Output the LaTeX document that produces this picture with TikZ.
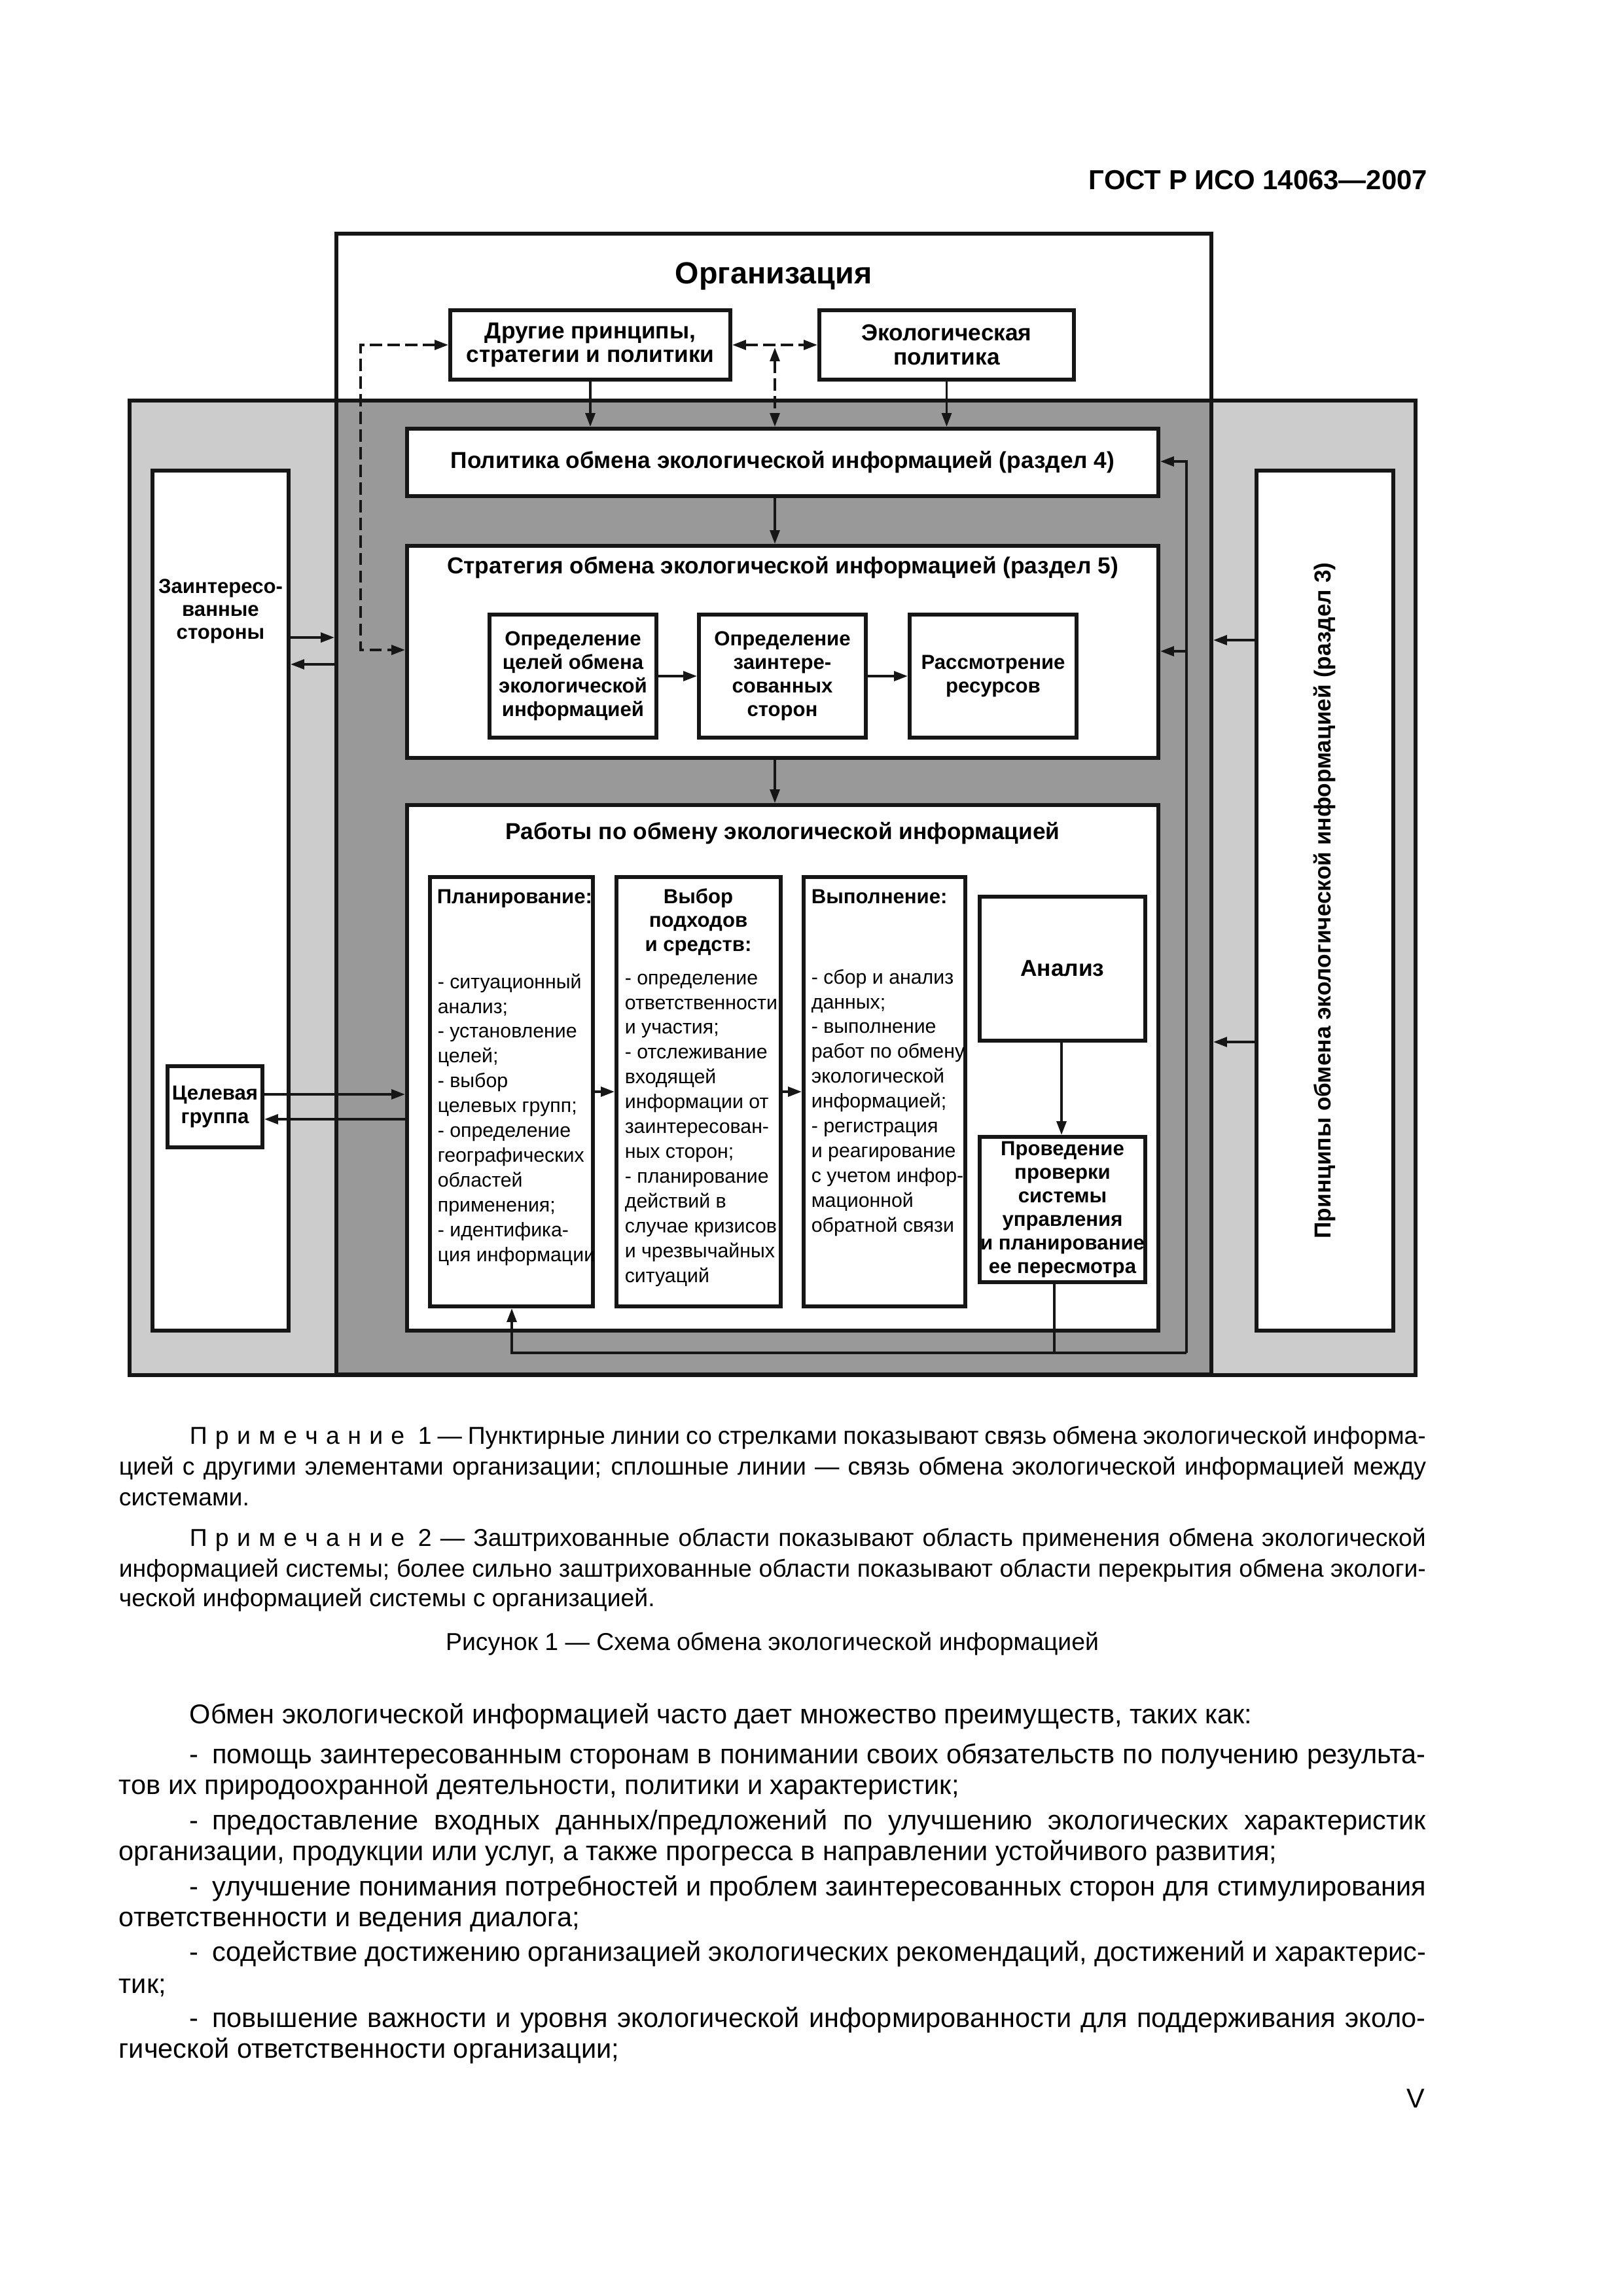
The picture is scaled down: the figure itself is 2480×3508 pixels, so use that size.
\documentclass[tikz,border=0pt]{standalone}
\usepackage{fontspec}
\setmainfont{Liberation Sans}
\usetikzlibrary{arrows.meta}
\newlength\PX \setlength\PX{0.084667mm}
\newlength\TW \setlength\TW{1997\PX}
\newlength\IND \setlength\IND{108\PX}
\definecolor{lg}{HTML}{CCCCCC}
\definecolor{dg}{HTML}{999999}
\definecolor{lc}{HTML}{161616}
\newcommand\bx[7]{\node[#2, minimum width={(#5-#3)*\PX}, minimum height={(#6-#4)*\PX}] (#1) at ({(#3+#5)/2},{(#4+#6)/2}) {#7};}
\newcommand\J[1]{\hbox to \TW{#1}}
\newcommand\JI[1]{\hbox to \TW{\hskip\IND #1}}
\newcommand\Prim{П\kern.33em р\kern.33em и\kern.33em м\kern.33em е\kern.33em ч\kern.33em а\kern.33em н\kern.33em и\kern.33em е\kern.55em}
\tikzset{
  frame/.style={draw=lc, line width=1.5pt},
  box/.style={draw=lc, line width=1.5pt, fill=white, inner sep=0pt, align=center, font=\bfseries\fontsize{8.5}{8.9}\selectfont},
  sbox/.style={box, font=\bfseries\fontsize{7.5}{8.7}\selectfont},
  ln/.style={draw=lc, line width=0.75pt},
  ar/.style={ln, -{Triangle[length=5pt,width=3.6pt]}},
  dar/.style={ln, dash pattern=on 4.5pt off 2pt, {Triangle[length=5pt,width=3.6pt]}-{Triangle[length=5pt,width=3.6pt]}},
  note/.style={anchor=base west, inner sep=0pt, font=\fontsize{9}{11.3}\selectfont},
  body/.style={anchor=base west, inner sep=0pt, font=\fontsize{10}{12.5}\selectfont},
  lst/.style={anchor=base west, inner sep=0pt, font=\fontsize{7.3}{9.15}\selectfont},
  ttl/.style={anchor=base, inner sep=0pt, font=\bfseries\fontsize{8.5}{8.9}\selectfont},
  sttl/.style={anchor=base, inner sep=0pt, font=\bfseries\fontsize{7.5}{8.9}\selectfont},
}
\begin{document}
\begin{tikzpicture}[x=0.084667mm, y=-0.084667mm, line join=miter]
\useasboundingbox (0,0) rectangle (2480,3508);
\fill[white] (0,0) rectangle (2480,3508);

% header
\node[anchor=base east, inner sep=0pt, font=\bfseries\fontsize{10.1}{12}\selectfont] (hdr) at (2182,289) {ГОСТ Р ИСО 14063—2007};

% frames
\fill[white] (514,357) rectangle (1851,613);
\node[fill=lg, inner sep=0pt, minimum width={(2162-199)*\PX}, minimum height={(2100-613)*\PX}] (sys) at ({(199+2162)/2},{(613+2100)/2}) {};
\fill[dg] (514,613) rectangle (1851,2100);
\draw[frame] (sys.north west) rectangle (sys.south east);
\node[frame, inner sep=0pt, minimum width={(1851-514)*\PX}, minimum height={(2100-357)*\PX}] (org) at ({(514+1851)/2},{(357+2100)/2}) {};
\node[anchor=base, inner sep=0pt, font=\bfseries\fontsize{11.25}{13}\selectfont] (orgt) at (1182,433) {Организация};

% boxes
\bx{oth}{box}{688}{474}{1116}{580}{Другие принципы,\\стратегии и политики}
\bx{eco}{box}{1252}{474}{1641}{580}{Экологическая\\политика}
\bx{pol}{box}{622}{655}{1770}{758}{Политика обмена экологической информацией (раздел 4)}
\bx{str}{box}{622}{834}{1770}{1158}{}
\node[ttl] (strt) at (1196,876) {Стратегия обмена экологической информацией (раздел 5)};
\bx{d1}{sbox}{748}{939}{1003}{1127}{Определение\\целей обмена\\экологической\\информацией}
\bx{d2}{sbox}{1068}{939}{1323}{1127}{Определение\\заинтере-\\сованных\\сторон}
\bx{d3}{sbox}{1390}{939}{1645}{1127}{Рассмотрение\\ресурсов}
\bx{wrk}{box}{622}{1230}{1770}{2033}{}
\node[ttl] (wrkt) at (1196,1282) {Работы по обмену экологической информацией};
\bx{pln}{box}{657}{1340}{906}{1996}{}
\bx{sel}{box}{942}{1340}{1193}{1996}{}
\bx{exe}{box}{1228}{1340}{1475}{1996}{}
\bx{ana}{box}{1497}{1370}{1750}{1590}{Анализ}
\bx{rev}{sbox}{1497}{1737}{1750}{1959}{Проведение\\проверки\\системы\\управления\\и планирование\\ее пересмотра}
\bx{stk}{box}{233}{719}{441}{2033}{}
\node[sttl] (stkt) at (337,906) {\parbox[t]{400\PX}{\centering Заинтересо-\\[-0.4pt]ванные\\[-0.4pt]стороны}};
\bx{tgt}{sbox}{256}{1629}{401}{1753}{Целевая\\группа}
\bx{prn}{box}{1920}{719}{2129}{2033}{}
\node[rotate=90, inner sep=0pt, font=\bfseries\fontsize{8.5}{9}\selectfont] (prnt) at (prn.center) {Принципы обмена экологической информацией (раздел 3)};

% column texts
\node[sttl, anchor=base west] (plnt) at (667,1380) {Планирование:};
\node[lst] (plnl) at (668,1510) {\parbox[t]{500\PX}{\raggedright - ситуационный\\анализ;\\- установление\\целей;\\- выбор\\целевых групп;\\- определение\\географических\\областей\\применения;\\- идентифика-\\ция информации}};
\node[sttl] (selt) at (1067,1380) {\parbox[t]{400\PX}{\centering Выбор\\подходов\\и средств:}};
\node[lst] (sell) at (954,1504) {\parbox[t]{500\PX}{\raggedright - определение\\ответственности\\и участия;\\- отслеживание\\входящей\\информации от\\заинтересован-\\ных сторон;\\- планирование\\действий в\\случае кризисов\\и чрезвычайных\\ситуаций}};
\node[sttl, anchor=base west] (exet) at (1239,1380) {Выполнение:};
\node[lst] (exel) at (1239,1503) {\parbox[t]{500\PX}{\raggedright - сбор и анализ\\данных;\\- выполнение\\работ по обмену\\экологической\\информацией;\\- регистрация\\и реагирование\\с учетом инфор-\\мационной\\обратной связи}};

% coordinates
\coordinate (cx) at (1184,527);
\coordinate (dl1) at (551,527);
\coordinate (dl2) at (551,993);
\coordinate (s1) at (441,974);
\coordinate (s2) at (441,1015);
\coordinate (r1) at (1920,978);
\coordinate (r2) at (1920,1592);
\coordinate (t1) at (0,1672);
\coordinate (t2) at (0,1710);
\coordinate (m) at (0,1668);
\coordinate (ax) at (1622,0);
\coordinate (fb) at (1813,2067);
\coordinate (fbl) at (782,2067);
\coordinate (rx) at (1611,2067);
\coordinate (p1) at (1813,705);
\coordinate (p2) at (1813,995);

% connectors
\draw[ar] (oth.south) -- (pol.north -| oth.south);
\draw[ar] (eco.south) -- (pol.north -| eco.south);
\draw[dar] (oth.east) -- (eco.west);
\draw[dar, shorten <=1pt] (cx) -- (pol.north -| cx);
\draw[dar] (oth.west) -- (dl1) -- (dl2) -- (str.west |- dl2);
\draw[ar] (pol.south -| cx) -- (str.north -| cx);
\draw[ar] (str.south -| cx) -- (wrk.north -| cx);
\draw[ar] (d1) -- (d2);
\draw[ar] (d2) -- (d3);
\draw[ar] (stk.east |- s1) -- (org.west |- s1);
\draw[ar] (org.west |- s2) -- (stk.east |- s2);
\draw[ar] (prn.west |- r1) -- (org.east |- r1);
\draw[ar] (prn.west |- r2) -- (org.east |- r2);
\draw[ar] (tgt.east |- t1) -- (wrk.west |- t1);
\draw[ar] (wrk.west |- t2) -- (tgt.east |- t2);
\draw[ar] (pln.east |- m) -- (sel.west |- m);
\draw[ar] (sel.east |- m) -- (exe.west |- m);
\draw[ar] (ana.south -| ax) -- (rev.north -| ax);
\draw[ln] (rev.south -| rx) -- (rx);
\draw[ar] (fb) -- (fbl) -- (pln.south -| fbl);
\draw[ar] (fb) -- (p1) -- (pol.east |- p1);
\draw[ar] (p2) -- (str.east |- p2);

% notes
\node[note] (n1a) at (181,2206) {\JI{\Prim 1 — Пунктирные линии со стрелками показывают связь обмена экологической информа-}};
\node[note] (n1b) at (181,2253) {\J{цией с другими элементами организации; сплошные линии — связь обмена экологической информацией между}};
\node[note] (n1c) at (181,2300) {системами.};
\node[note] (n2a) at (181,2362) {\JI{\Prim 2 — Заштрихованные области показывают область применения обмена экологической}};
\node[note] (n2b) at (181,2409) {\J{информацией системы; более сильно заштрихованные области показывают области перекрытия обмена экологи-}};
\node[note] (n2c) at (181,2454) {ческой информацией системы с организацией.};
\node[note, anchor=base] (cap) at (1180,2521) {Рисунок 1 — Схема обмена экологической информацией};

% body
\node[body] (b1) at (289,2633) {Обмен экологической информацией часто дает множество преимуществ, таких как:};
\node[body] (b2a) at (181,2694) {\JI{-\kern.5em помощь заинтересованным сторонам в понимании своих обязательств по получению результа-}};
\node[body] (b2b) at (181,2741) {тов их природоохранной деятельности, политики и характеристик;};
\node[body] (b3a) at (181,2795) {\JI{-\kern.5em предоставление входных данных/предложений по улучшению экологических характеристик}};
\node[body] (b3b) at (181,2842) {организации, продукции или услуг, а также прогресса в направлении устойчивого развития;};
\node[body] (b4a) at (181,2896) {\JI{-\kern.5em улучшение понимания потребностей и проблем заинтересованных сторон для стимулирования}};
\node[body] (b4b) at (181,2943) {ответственности и ведения диалога;};
\node[body] (b5a) at (181,2996) {\JI{-\kern.5em содействие достижению организацией экологических рекомендаций, достижений и характерис-}};
\node[body] (b5b) at (181,3045) {тик;};
\node[body] (b6a) at (181,3097) {\JI{-\kern.5em повышение важности и уровня экологической информированности для поддерживания эколо-}};
\node[body] (b6b) at (181,3144) {гической ответственности организации;};
\node[body, anchor=base east] (pg) at (2178,3220) {V};
\end{tikzpicture}
\end{document}
